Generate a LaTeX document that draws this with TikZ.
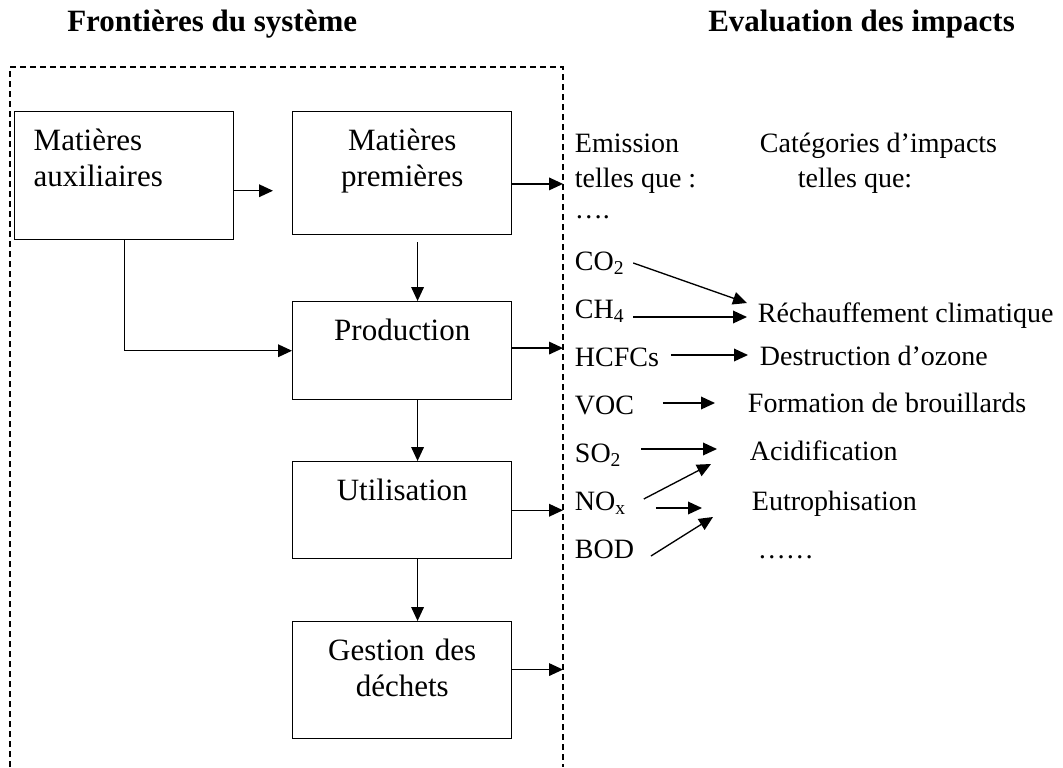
\documentclass[tikz,border=0pt]{standalone}
\usepackage{fontspec}
\setmainfont{Liberation Serif}
\usetikzlibrary{arrows.meta}

\def\BW{164.25pt}
\def\TH{29.25pt}

\begin{document}
\begin{tikzpicture}[x=0.75pt,y=-0.75pt]
    \tikzset{
      box/.style={draw,line width=1.1pt,anchor=north west,inner xsep=0pt,inner ysep=0pt,
        minimum width=\BW,text width=\BW,align=center,text height=\TH,
        font=\fontsize{23.25pt}{26.5pt}\selectfont},
      lbl/.style={anchor=base west,inner sep=2pt,text height=14.5pt,text depth=4pt,
        font=\fontsize{21pt}{26.25pt}\selectfont},
      head/.style={anchor=base west,inner sep=0pt,
        font=\fontsize{23.25pt}{26.5pt}\selectfont\bfseries},
      bound/.style={line width=0.9pt,dash pattern=on 4.5pt off 3pt},
      >={Triangle[length=10.5pt,width=9.5pt]}
    }
    \useasboundingbox (0,0) rectangle (1063,767);

    \node[head] (tsys) at (67,32) {Frontières du système};
    \node[head] (teval) at (708,32) {Evaluation des impacts};

    \coordinate (bnd) at (563,67);
    \draw[bound] (10,767) |- (bnd) -- (bnd |- 0,767);

    \node[box,align=left,text width=135.75pt,inner xsep=14.25pt,text depth=66.75pt] (aux) at (14,111) {Matières\\auxiliaires};
    \node[box,text depth=63pt] (prem) at (292,111) {Matières\\premières};
    \node[box,text depth=44.25pt] (prod) at (292,301) {Production};
    \node[box,text depth=43.5pt] (util) at (292,461) {Utilisation};
    \node[box,text depth=58.5pt] (gest) at (292,621) {Gestion des\\déchets};

    \node[lbl] (em) at (572,152) {Emission};
    \node[lbl] (emtq) at (572,187) {telles que :};
    \node[lbl] (emdots) at (572,218) {….};
    \node[lbl] (cat) at (757,152) {Catégories d’impacts};
    \node[lbl] (cattq) at (795,187) {telles que:};

    \node[lbl] (co2) at (572,270) {CO\textsubscript{2}};
    \node[lbl] (ch4) at (572,318) {CH\textsubscript{4}};
    \node[lbl] (hcfc) at (572,366) {HCFCs};
    \node[lbl] (voc) at (572,414) {VOC};
    \node[lbl] (so2) at (572,462) {SO\textsubscript{2}};
    \node[lbl] (nox) at (572,510) {NO\textsubscript{x}};
    \node[lbl] (bod) at (572,558) {BOD};

    \node[lbl] (rech) at (755,322) {Réchauffement climatique};
    \node[lbl] (destr) at (757,365) {Destruction d’ozone};
    \node[lbl] (form) at (745,412) {Formation de brouillards};
    \node[lbl] (acid) at (747,460) {Acidification};
    \node[lbl] (eutro) at (749,510) {Eutrophisation};
    \node[lbl] (more) at (755,558) {……};

    \path[->,line width=1pt] ([yshift=-11.25pt]aux.east) edge[shorten >=14.25pt] ([yshift=-11.25pt]aux.east -| prem.west)
      ([xshift=11.5pt]prem.south) edge[shorten <=5pt] ([xshift=11.5pt]prod.north)
      ([xshift=11.5pt]prod.south) edge ([xshift=11.5pt]util.north)
      ([xshift=11.5pt]util.south) edge ([xshift=11.5pt]gest.north);
    \draw[->,line width=1pt] (aux.south) |- (prod.west);

    \path[->,line width=1pt] ([yshift=-8pt]prem.east) edge ([yshift=-8pt]prem.east -| bnd)
      ([yshift=2pt]prod.east) edge ([yshift=2pt]prod.east -| bnd)
      (util.east) edge (util.east -| bnd)
      ([yshift=8pt]gest.east) edge ([yshift=8pt]gest.east -| bnd);

    \path[->,line width=1pt] ([xshift=4.5pt]co2.east) edge ([xshift=-6pt,yshift=9pt]rech.west)
      ([yshift=-4.5pt]ch4.east) edge[shorten <=4.5pt,shorten >=6pt] ([yshift=-4.5pt]ch4.east -| rech.west)
      ([yshift=3pt]hcfc.east) edge[shorten <=6.75pt,shorten >=6.75pt] ([yshift=3pt]hcfc.east -| destr.west)
      ([yshift=3pt]voc.east) edge[shorten <=19.5pt,shorten >=22.5pt] ([yshift=3pt]voc.east -| form.west)
      ([yshift=4.5pt]so2.east) edge[shorten <=12.75pt,shorten >=22.5pt] ([yshift=4.5pt]so2.east -| acid.west)
      ([xshift=11.25pt,yshift=3pt]nox.east) edge ([xshift=-27pt,yshift=-8.25pt]acid.west)
      ([yshift=-3.75pt]nox.east) edge[shorten <=20.25pt,shorten >=35.25pt] ([yshift=-3.75pt]nox.east -| eutro.west)
      ([xshift=10.5pt,yshift=-3.75pt]bod.east) edge ([xshift=-27pt,yshift=-10.5pt]eutro.west);
  \end{tikzpicture}
\end{document}
